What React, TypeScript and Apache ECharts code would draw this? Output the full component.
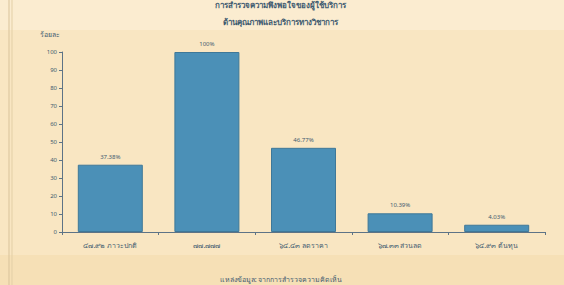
import React, { useEffect, useRef } from "react";
import * as echarts from "echarts";

const categories = ["๔๗.๙๒ ภาวะปกติ", "๗๗.๗๗๗", "๖๔.๔๓ ลดราคา", "๖๗.๓๓ ส่วนลด", "๖๔.๙๓ ต้นทุน"];
const values = [37.38, 100, 46.77, 10.39, 4.03];
const valueLabels = ["37.38%", "100%", "46.77%", "10.39%", "4.03%"];
const yTicks = [0, 10, 20, 30, 40, 50, 60, 70, 80, 90, 100];
const titleLines = ["การสำรวจความพึงพอใจของผู้ใช้บริการ", "ด้านคุณภาพและบริการทางวิชาการ"];
const yAxisName = "ร้อยละ";
const caption = "แหล่งข้อมูล: จากการสำรวจความคิดเห็น";

export default function App() {
  const ref = useRef<HTMLDivElement>(null);
  useEffect(() => {
    if (!ref.current) return;
    const chart = echarts.init(ref.current, null, { renderer: "svg" });
    const font = "'Noto Sans', sans-serif";
    const txt = "#3f5b70";
    chart.setOption({
      animation: false,
      backgroundColor: "#f9e6c2",
      grid: { left: 62, right: 19, top: 52, bottom: 53 },
      graphic: [
        { type: "rect", shape: { x: 0, y: 0, width: 564, height: 30 }, style: { fill: "#fbecd0" }, silent: true },
        { type: "rect", shape: { x: 0, y: 255, width: 564, height: 30 }, style: { fill: "#f6e0b6" }, silent: true },
        { type: "line", shape: { x1: 9, y1: 0, x2: 9, y2: 285 }, style: { stroke: "#d9c39a", lineWidth: 1 } },
        { type: "line", shape: { x1: 12, y1: 0, x2: 12, y2: 285 }, style: { stroke: "#e3cfa6", lineWidth: 1 } },
        { type: "text", x: 280, y: 4, style: { text: titleLines[0], fill: txt, font: "bold 8px " + font, align: "center", verticalAlign: "middle" } },
        { type: "text", x: 280, y: 21, style: { text: titleLines[1], fill: txt, font: "bold 8px " + font, align: "center", verticalAlign: "middle" } },
        { type: "text", x: 281, y: 279, style: { text: caption, fill: txt, font: "7px " + font, align: "center", verticalAlign: "middle" } },
      ],
      xAxis: {
        type: "category",
        data: categories,
        axisLine: { show: true, lineStyle: { color: "#5d7386", width: 1 } },
        axisTick: { show: true, alignWithLabel: false, length: 3, lineStyle: { color: "#5d7386" } },
        axisLabel: { color: txt, fontSize: 7, fontFamily: font, margin: 10, interval: 0 },
      },
      yAxis: {
        type: "value",
        min: 0,
        max: 100,
        interval: 10,
        name: yAxisName,
        nameLocation: "end",
        nameGap: 14,
        nameTextStyle: { color: txt, fontSize: 7, fontFamily: font, align: "right", padding: [0, 2, 0, 0] },
        axisLine: { show: true, lineStyle: { color: "#5d7386", width: 1 } },
        axisTick: { show: true, length: 3, lineStyle: { color: "#5d7386" } },
        axisLabel: {
          color: txt,
          fontSize: 6,
          fontFamily: font,
          margin: 5,
          formatter: (v: number) => (yTicks.includes(v) ? String(v) : ""),
        },
        splitLine: { show: false },
      },
      series: [
        {
          type: "bar",
          data: values,
          barWidth: 65,
          itemStyle: { color: "#4b90b7", borderColor: "#3f7898", borderWidth: 1 },
          label: {
            show: true,
            position: "top",
            distance: 5,
            color: txt,
            fontSize: 6,
            fontFamily: font,
            formatter: (p: any) => valueLabels[p.dataIndex],
          },
        },
      ],
    });
    return () => chart.dispose();
  }, []);
  return <div ref={ref} style={{ position: "fixed", left: 0, top: 0, width: 564, height: 285 }} />;
}
